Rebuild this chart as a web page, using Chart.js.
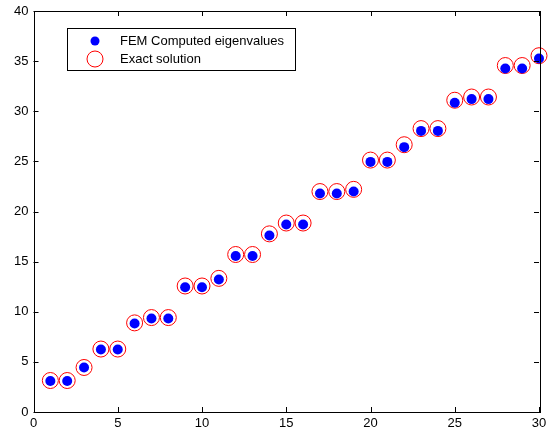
<!DOCTYPE html>
<html lang="en">
<head>
  <meta charset="UTF-8">
  <title>FEM eigenvalues</title>
  <style>
    body {
      margin: 0;
      padding: 0;
      background: #fff;
    }
    #wrap {
      width: 548px;
      height: 434px;
    }
  </style>
</head>
<body>
<div id="wrap"><canvas id="eigChart"></canvas></div>

<script src="https://cdn.jsdelivr.net/npm/chart.js"></script>
<script>
  // eigenvalue index 1..30
  const modeIndex = [1, 2, 3, 4, 5, 6, 7, 8, 9, 10, 11, 12, 13, 14, 15,
                     16, 17, 18, 19, 20, 21, 22, 23, 24, 25, 26, 27, 28, 29, 30];
  // values
  const femValues = [3.09, 3.09, 4.43, 6.23, 6.23, 8.82, 9.32, 9.32, 12.45, 12.45,
                     13.21, 15.57, 15.57, 17.6, 18.7, 18.7, 21.8, 21.8, 22.0, 24.95,
                     24.95, 26.42, 28.04, 28.04, 30.84, 31.21, 31.21, 34.27, 34.27, 35.27];
  const exactValues = [3.14, 3.14, 4.44, 6.28, 6.28, 8.89, 9.42, 9.42, 12.57, 12.57,
                       13.33, 15.71, 15.71, 17.77, 18.85, 18.85, 21.99, 21.99, 22.21, 25.13,
                       25.13, 26.66, 28.27, 28.27, 31.1, 31.42, 31.42, 34.56, 34.56, 35.54];
  const xTicks = [0, 5, 10, 15, 20, 25, 30];
  const yTicks = [0, 5, 10, 15, 20, 25, 30, 35, 40];
  const legendLabels = ['FEM Computed eigenvalues', 'Exact solution'];

  const FONT = '13px "Liberation Sans", Arial, sans-serif';

  // MATLAB style: box around axes, ticks pointing inward, legend inside
  const axesBox = {
    id: 'axesBox',
    afterDatasetsDraw(chart) {
      const ctx = chart.ctx;
      const a = chart.chartArea;
      const sx = chart.scales.x, sy = chart.scales.y;
      ctx.save();
      ctx.strokeStyle = '#000';
      ctx.lineWidth = 1;
      ctx.strokeRect(Math.round(a.left) + 0.5, Math.round(a.top) + 0.5,
                     Math.round(a.right - a.left), Math.round(a.bottom - a.top));
      ctx.beginPath();
      xTicks.forEach(v => {
        const px = Math.round(sx.getPixelForValue(v)) + 0.5;
        ctx.moveTo(px, a.bottom); ctx.lineTo(px, a.bottom - 5);
        ctx.moveTo(px, a.top); ctx.lineTo(px, a.top + 5);
      });
      yTicks.forEach(v => {
        const py = Math.round(sy.getPixelForValue(v)) + 0.5;
        ctx.moveTo(a.left, py); ctx.lineTo(a.left + 5, py);
        ctx.moveTo(a.right, py); ctx.lineTo(a.right - 5, py);
      });
      ctx.stroke();

      // legend
      const lx = 67.5, ly = 28.5, lw = 228, lh = 42;
      ctx.fillStyle = '#fff';
      ctx.fillRect(lx, ly, lw, lh);
      ctx.strokeRect(lx, ly, lw, lh);
      ctx.fillStyle = '#0000ff';
      ctx.beginPath();
      ctx.arc(95, 41, 4.5, 0, Math.PI * 2);
      ctx.fill();
      ctx.strokeStyle = '#ff0000';
      ctx.beginPath();
      ctx.arc(95, 59, 8, 0, Math.PI * 2);
      ctx.stroke();
      ctx.fillStyle = '#000';
      ctx.font = FONT;
      ctx.textBaseline = 'middle';
      ctx.fillText(legendLabels[0], 120, 41);
      ctx.fillText(legendLabels[1], 120, 59);
      ctx.restore();
    }
  };

  new Chart(document.getElementById('eigChart'), {
    type: 'scatter',
    data: {
      datasets: [
        {
          label: legendLabels[0],
          data: modeIndex.map((x, i) => ({ x: x, y: femValues[i] })),
          backgroundColor: '#0000ff',
          borderColor: '#0000ff',
          borderWidth: 0,
          pointRadius: 5,
          clip: false
        },
        {
          label: legendLabels[1],
          data: modeIndex.map((x, i) => ({ x: x, y: exactValues[i] })),
          backgroundColor: 'rgba(0,0,0,0)',
          borderColor: '#ff0000',
          borderWidth: 1,
          pointRadius: 8,
          clip: false
        }
      ]
    },
    options: {
      responsive: true,
      maintainAspectRatio: false,
      animation: false,
      layout: { padding: { top: 11, right: 7, left: 0, bottom: 0 } },
      plugins: {
        legend: { display: false },
        tooltip: { enabled: false }
      },
      scales: {
        x: {
          type: 'linear',
          min: 0,
          max: 30,
          afterBuildTicks: s => { s.ticks = xTicks.map(v => ({ value: v })); },
          afterFit: s => { s.height = 22; s.paddingLeft = 0; s.paddingRight = 0; },
          grid: { display: false, drawTicks: false },
          border: { display: false },
          ticks: { color: '#000', font: { family: '"Liberation Sans", Arial, sans-serif', size: 13 }, padding: 4, maxRotation: 0 }
        },
        y: {
          type: 'linear',
          min: 0,
          max: 40,
          afterBuildTicks: s => { s.ticks = yTicks.map(v => ({ value: v })); },
          afterFit: s => { s.width = 33.5; s.paddingTop = 0; s.paddingBottom = 0; },
          grid: { display: false, drawTicks: false },
          border: { display: false },
          ticks: { color: '#000', font: { family: '"Liberation Sans", Arial, sans-serif', size: 13 }, padding: 5 }
        }
      }
    },
    plugins: [axesBox]
  });
</script>
</body>
</html>
